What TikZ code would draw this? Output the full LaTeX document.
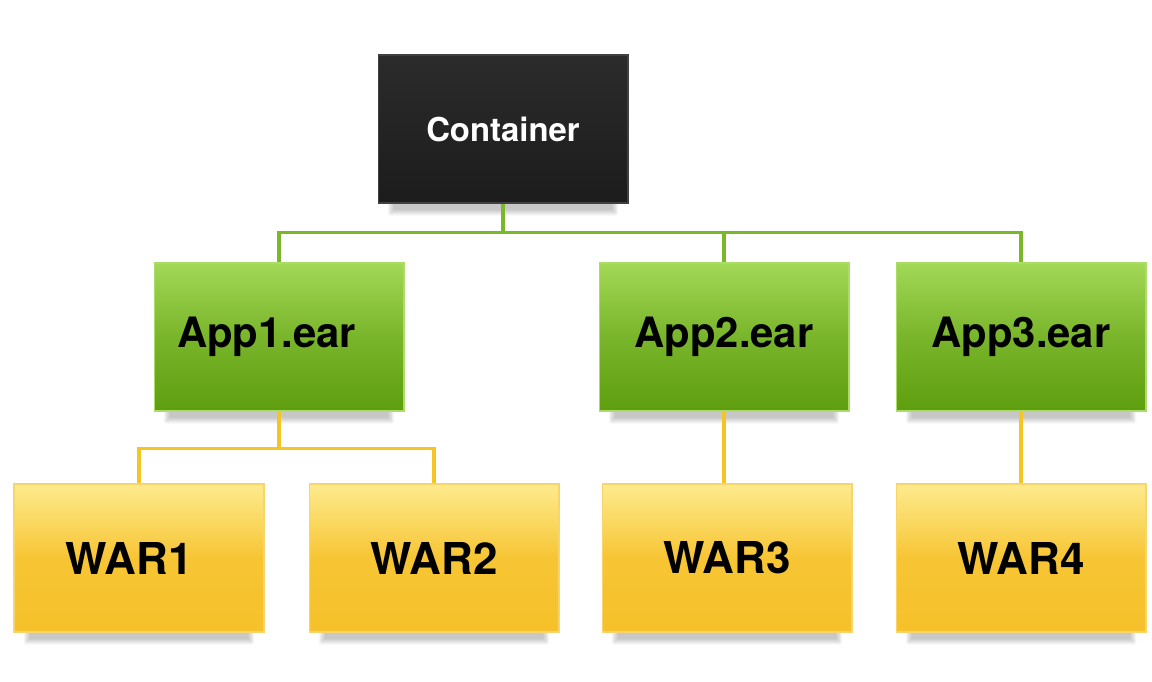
\documentclass[tikz,border=0pt]{standalone}
\usepackage{fontspec}
\setmainfont{TeX Gyre Heros}
\usetikzlibrary{shadows.blur}
\definecolor{linegreen}{HTML}{7AB829}
\definecolor{lineyellow}{HTML}{F5C623}
\definecolor{greentop}{HTML}{A2D856}
\definecolor{greenbot}{HTML}{5E9E0E}
\definecolor{yellowtop}{HTML}{FEEB8E}
\definecolor{yellowbot}{HTML}{F6C12A}
\begin{document}
\begin{tikzpicture}[x=0.02cm,y=-0.02cm,
	box/.style={minimum width=5cm,minimum height=2.96cm,inner sep=0pt,line width=0.6pt,
		blur shadow={shadow xshift=0pt,shadow yshift=-11pt,shadow scale=0.9,shadow opacity=22,shadow blur steps=12}},
	contbox/.style={box,draw=black!75,top color=black!83,bottom color=black!89,text=white,font=\fontsize{18.7}{22}\selectfont\bfseries},
	appbox/.style={box,draw=greentop!90,top color=greentop,bottom color=greenbot,middle color=greentop!40!greenbot,font=\fontsize{23.8}{28}\selectfont\bfseries},
	warbox/.style={box,draw=yellowbot!70!white,top color=yellowtop,bottom color=yellowbot,middle color=yellowbot!90!yellowtop,font=\fontsize{25}{30}\selectfont\bfseries},
	greenline/.style={draw=linegreen,line width=1.8pt},
	yellowline/.style={draw=lineyellow,line width=1.8pt}]
	\useasboundingbox (0,0) rectangle (1152,682);
	% top level
	\node[contbox] (cont) at (503,129) {Container};
	% applications
	\node[appbox] (app1) at (279,337) {App1.ear\hspace*{14pt}};
	\node[appbox] (app2) at (724,337) {App2.ear};
	\node[appbox] (app3) at (1021,337) {App3.ear};
	% web modules
	\node[warbox] (war1) at (139,558) {WAR1\hspace*{11pt}};
	\node[warbox] (war2) at (434,558) {WAR2};
	\node[warbox] (war3) at (727,558) {WAR3};
	\node[warbox] (war4) at (1021,558) {WAR4};
	% connectors
	\draw[greenline] (cont.south) -- ++(0,29) -| (app1.north);
	\draw[greenline] (cont.south) -- ++(0,29) -| (app2.north);
	\draw[greenline] (cont.south) -- ++(0,29) -| (app3.north);
	\draw[yellowline] (app1.south) -- ++(0,37) -| (war1.north);
	\draw[yellowline] (app1.south) -- ++(0,37) -| (war2.north);
	\draw[yellowline] (app2.south) -- (app2.south|-war3.north);
	\draw[yellowline] (app3.south) -- (war4.north);
\end{tikzpicture}
\end{document}
